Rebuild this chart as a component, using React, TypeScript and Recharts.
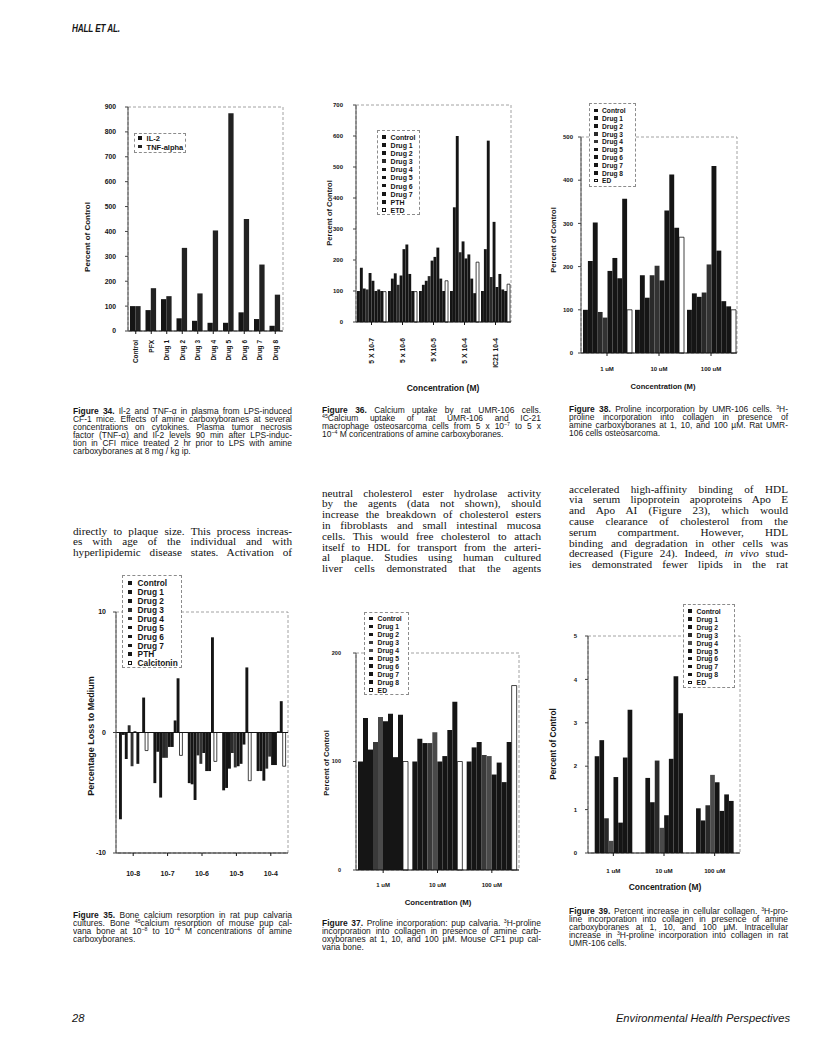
import React from 'react'
import { BarChart, Bar, XAxis, YAxis, ReferenceArea, ReferenceLine } from 'recharts'

const SANS = "'Liberation Sans', Arial, sans-serif"
const SERIF = "'Liberation Serif', 'DejaVu Serif', serif"
const INK = '#151515'

// Figure 34: cytokines
const fig34Categories = ['Control', 'PFX', 'Drug 1', 'Drug 2', 'Drug 3', 'Drug 4', 'Drug 5', 'Drug 6', 'Drug 7', 'Drug 8']
const fig34Series = ['IL-2', 'TNF-alpha']
const fig34Il2 = [100, 84, 128, 51, 41, 33, 33, 75, 48, 21]
const fig34Tnf = [100, 172, 140, 334, 151, 404, 875, 450, 267, 146]
const fig34Ticks = [0, 100, 200, 300, 400, 500, 600, 700, 800, 900]

// Figure 36: calcium uptake, UMR-106
const fig36Groups = ['5 X 10-7', '5 x 10-6', '5 X10-5', '5 X 10-4', 'IC21 10-4']
const fig36Series = ['Control', 'Drug 1', 'Drug 2', 'Drug 3', 'Drug 4', 'Drug 5', 'Drug 6', 'Drug 7', 'PTH', 'ETD']
const fig36At5e7 = [100, 175, 108, 105, 158, 133, 100, 105, 100, 98]
const fig36At5e6 = [100, 140, 157, 120, 150, 235, 250, 155, 100, 98]
const fig36At5e5 = [100, 120, 133, 148, 198, 210, 240, 140, 100, 133]
const fig36At5e4 = [100, 370, 600, 225, 260, 205, 218, 140, 93, 193]
const fig36Ic21 = [100, 235, 585, 145, 323, 113, 155, 105, 100, 122]
const fig36Ticks = [0, 100, 200, 300, 400, 500, 600, 700]

// Figure 38: proline incorporation, UMR-106
const fig38Groups = ['1 uM', '10 uM', '100 uM']
const fig38Series = ['Control', 'Drug 1', 'Drug 2', 'Drug 3', 'Drug 4', 'Drug 5', 'Drug 6', 'Drug 7', 'Drug 8', 'ED']
const fig38At1 = [100, 213, 302, 95, 82, 190, 220, 173, 357, 100]
const fig38At10 = [100, 180, 128, 180, 202, 168, 330, 413, 290, 268]
const fig38At100 = [100, 138, 130, 140, 205, 433, 237, 120, 108, 100]
const fig38Ticks = [0, 100, 200, 300, 400, 500]

// Figure 35: bone calcium resorption
const fig35Groups = ['10-8', '10-7', '10-6', '10-5', '10-4']
const fig35Series = ['Control', 'Drug 1', 'Drug 2', 'Drug 3', 'Drug 4', 'Drug 5', 'Drug 6', 'Drug 7', 'PTH', 'Calcitonin']
const fig35At1e8 = [-7.2, -0.2, -2.2, 0.6, -2.8, 0.1, -2.6, 0, 2.9, -1.5]
const fig35At1e7 = [-4.2, -1.6, -5.4, -2.1, -2.1, -1.2, -1.2, 1.0, 4.5, -1.9]
const fig35At1e6 = [-4.2, -4.3, -5.6, -1.9, -2.6, -1.7, -3.2, -3.2, 7.9, -2.4]
const fig35At1e5 = [-4.8, -4.6, -3.0, -1.7, -2.9, -2.8, -2.6, -1.0, 5.4, -4.0]
const fig35At1e4 = [-3.2, -3.2, -4.0, -3.0, -2.0, -2.7, -2.7, 0.1, 2.6, -2.8]
const fig35Ticks = [-10, 0, 10]

// Figure 37: proline incorporation, pup calvaria
const fig37Groups = ['1 uM', '10 uM', '100 uM']
const fig37Series = ['Control', 'Drug 1', 'Drug 2', 'Drug 3', 'Drug 4', 'Drug 5', 'Drug 6', 'Drug 7', 'Drug 8', 'ED']
const fig37At1 = [100, 140, 111, 118, 141, 137, 144, 104, 143, 100]
const fig37At10 = [100, 121, 117, 117, 127, 100, 105, 129, 155, 100]
const fig37At100 = [100, 113, 118, 106, 105, 88, 99, 81, 118, 170]
const fig37Ticks = [0, 100, 200]

// Figure 39: cellular collagen
const fig39Groups = ['1 uM', '10 uM', '100 uM']
const fig39Series = ['Control', 'Drug 1', 'Drug 2', 'Drug 3', 'Drug 4', 'Drug 5', 'Drug 6', 'Drug 7', 'Drug 8', 'ED']
const fig39At1 = [0, 2.23, 2.6, 0.8, 0.28, 1.75, 0.7, 2.2, 3.3, 0]
const fig39At10 = [0, 1.73, 1.17, 2.13, 0.58, 0.87, 2.17, 4.07, 3.22, 0]
const fig39At100 = [0, 1.03, 0.75, 1.1, 1.8, 1.63, 0.97, 1.35, 1.2, 0]
const fig39Ticks = [0, 1, 2, 3, 4, 5]

function rowsByGroup(groups: string[], series: string[], values: number[][]) {
  return groups.map((name, g) => {
    const row: Record<string, string | number> = { name }
    series.forEach((s, i) => { row[s] = values[g][i] })
    return row
  })
}

function rowsBySeries(groups: string[], series: string[], cols: number[][]) {
  return groups.map((name, g) => {
    const row: Record<string, string | number> = { name }
    series.forEach((s, i) => { row[s] = cols[i][g] })
    return row
  })
}

const W = '#ffffff'
const fills34 = [INK, '#222']
const fills36 = [INK, INK, INK, '#2a2a2a', INK, INK, INK, INK, INK, W]
const fills38 = [INK, INK, INK, '#2a2a2a', '#333', INK, INK, INK, INK, W]
const fills35 = [INK, INK, INK, '#2a2a2a', '#333', INK, INK, INK, INK, W]
const fills37 = [INK, INK, INK, '#3a3a3a', '#4a4a4a', INK, INK, INK, INK, W]
const fills39 = [INK, INK, INK, '#2a2a2a', '#4a4a4a', INK, INK, INK, INK, W]

function RotatedTick(props: any) {
  const { x, y, payload, size } = props
  return (
    <text x={x} y={y} transform={`rotate(-90 ${x} ${y})`} textAnchor="end" dy="0.35em"
      fontSize={size} fontWeight={700} fontFamily={SANS} fill={INK}>
      {payload.value}
    </text>
  )
}

function FigureChart(p: any) {
  const tickFont = { fontSize: p.ySize, fontWeight: 700, fill: INK, fontFamily: SANS }
  return (
    <div style={{ position: 'absolute', left: p.box[0], top: p.box[1] }}>
      <BarChart width={p.box[2]} height={p.box[3]} data={p.data} margin={p.margin} barGap={0} barSize={p.barSize}>
        <ReferenceArea y1={p.domain[0]} y2={p.domain[1]} fill="none" stroke="#8c8c8c" strokeWidth={0.8}
          strokeDasharray="3 2" ifOverflow="visible" />
        <XAxis dataKey="name" interval={0} height={p.xHeight} tickSize={3} tickMargin={p.xTickMargin}
          stroke={INK} axisLine={{ stroke: INK, strokeWidth: 1 }}
          tick={p.rotated
            ? (t: any) => <RotatedTick {...t} size={p.xSize} />
            : { fontSize: p.xSize, fontWeight: 700, fill: INK, fontFamily: SANS }} />
        <YAxis type="number" domain={p.domain} ticks={p.ticks} interval={0} width={p.yWidth}
          tickSize={3} tickMargin={p.yTickMargin} stroke="#444" tick={tickFont} />
        {p.zeroLine && <ReferenceLine y={0} stroke={INK} strokeWidth={1} />}
        {p.series.map((s: string, i: number) => (
          <Bar key={s} dataKey={s} fill={p.fills[i]} stroke={p.fills[i] === W ? INK : 'none'}
            strokeWidth={0.8} barSize={p.barSize} isAnimationActive={false} />
        ))}
      </BarChart>
    </div>
  )
}

function LegendBox(p: any) {
  return (
    <div style={{
      position: 'absolute', left: p.left, top: p.top, width: p.width, height: p.height,
      border: '1px dashed #8c8c8c', boxSizing: 'border-box', background: '#fff',
      fontFamily: SANS, fontSize: p.size, fontWeight: 700, color: INK,
    }}>
      {p.names.map((n: string, i: number) => (
        <div key={n} style={{
          position: 'absolute', left: p.markLeft, top: p.first + i * p.rowH - p.rowH / 2,
          height: p.rowH, lineHeight: `${p.rowH}px`, whiteSpace: 'nowrap',
        }}>
          <span style={{
            display: 'inline-block', width: 3.6, height: 3.6, marginRight: p.gap,
            background: p.fills[i], border: p.fills[i] === W ? `0.8px solid ${INK}` : 'none',
            boxSizing: 'border-box', verticalAlign: 'middle', position: 'relative', top: -1,
          }} />
          {n}
        </div>
      ))}
    </div>
  )
}

function AxisTitle(p: any) {
  return (
    <div style={{
      position: 'absolute', left: p.x, top: p.y,
      transform: `translate(-50%, -50%)${p.vertical ? ' rotate(-90deg)' : ''}`,
      whiteSpace: 'nowrap', fontFamily: SANS, fontWeight: 700, fontSize: p.size, color: INK, lineHeight: 1,
    }}>
      {p.text}
    </div>
  )
}

// justified text lines; squeeze < 1 narrows the face horizontally (condensed caption type)
function Lines(p: any) {
  const sq = p.squeeze || 1
  return (
    <div style={{
      position: 'absolute', left: p.left, top: p.center - p.lh / 2, width: p.width / sq,
      transform: sq !== 1 ? `scaleX(${sq})` : undefined, transformOrigin: '0 0', ...p.style,
    }}>
      {p.lines.map((ln: any, i: number) => {
        const loose = p.loose && i === p.lines.length - 1
        return (
          <div key={i} style={{
            height: p.lh, lineHeight: `${p.lh}px`, whiteSpace: 'nowrap',
            textAlign: loose ? 'left' : 'justify', textAlignLast: loose ? 'left' : 'justify',
          }}>
            {ln}
          </div>
        )
      })}
    </div>
  )
}

const Sup = ({ children }: any) => (
  <sup style={{ fontSize: '0.62em', lineHeight: 0, verticalAlign: '0.5em' }}>{children}</sup>
)
const B = ({ children }: any) => <b style={{ fontWeight: 700 }}>{children}</b>

const captionStyle = { fontFamily: SANS, fontSize: 9.4, color: '#161616' }
const bodyStyle = { fontFamily: SERIF, fontSize: 11.2, color: '#111' }
const CAP_SQ = 0.9

export default function App() {
  const data34 = rowsBySeries(fig34Categories, fig34Series, [fig34Il2, fig34Tnf])
  const data36 = rowsByGroup(fig36Groups, fig36Series, [fig36At5e7, fig36At5e6, fig36At5e5, fig36At5e4, fig36Ic21])
  const data38 = rowsByGroup(fig38Groups, fig38Series, [fig38At1, fig38At10, fig38At100])
  const data35 = rowsByGroup(fig35Groups, fig35Series, [fig35At1e8, fig35At1e7, fig35At1e6, fig35At1e5, fig35At1e4])
  const data37 = rowsByGroup(fig37Groups, fig37Series, [fig37At1, fig37At10, fig37At100])
  const data39 = rowsByGroup(fig39Groups, fig39Series, [fig39At1, fig39At10, fig39At100])

  return (
    <div style={{ position: 'absolute', left: 0, top: 0, width: 816, height: 1060, background: '#fff', overflow: 'hidden' }}>
      <div style={{
        position: 'absolute', left: 72, top: 22, fontFamily: SANS, fontSize: 10.5, fontWeight: 700,
        fontStyle: 'italic', color: INK, transform: 'scaleX(0.78)', transformOrigin: '0 0', letterSpacing: -0.2,
      }}>
        HALL ET AL.
      </div>

      {/* Figure 34 */}
      <FigureChart box={[75, 95, 215, 300]} margin={{ top: 12, right: 7, bottom: 4, left: 0 }}
        data={data34} series={fig34Series} fills={fills34} domain={[0, 900]} ticks={fig34Ticks}
        yWidth={53} yTickMargin={9} ySize={6.8} xHeight={60} xTickMargin={6} xSize={6.5} rotated barSize={5.3} />
      <LegendBox left={134} top={133} width={52} height={20} names={fig34Series} fills={fills34}
        first={5.3} rowH={8.4} size={7.5} markLeft={3} gap={5} />
      <AxisTitle x={88} y={237} text="Percent of Control" size={8} vertical />

      {/* Figure 36 */}
      <FigureChart box={[325, 95, 195, 300]} margin={{ top: 10, right: 9, bottom: 13, left: 0 }}
        data={data36} series={fig36Series} fills={fills36} domain={[0, 700]} ticks={fig36Ticks}
        yWidth={31} yTickMargin={10} ySize={6} xHeight={60} xTickMargin={13} xSize={6.8} rotated barSize={2.9} />
      <LegendBox left={377} top={130} width={43} height={85} names={fig36Series} fills={fills36}
        first={6.7} rowH={8.15} size={7} markLeft={4} gap={5} />
      <AxisTitle x={330} y={213} text="Percent of Control" size={7.5} vertical />
      <AxisTitle x={443} y={388} text="Concentration (M)" size={8.5} />

      {/* Figure 38 */}
      <FigureChart box={[550, 95, 195, 300]} margin={{ top: 42, right: 8, bottom: 12, left: 0 }}
        data={data38} series={fig38Series} fills={fills38} domain={[0, 500]} ticks={fig38Ticks}
        yWidth={31} yTickMargin={5} ySize={6} xHeight={30} xTickMargin={11} xSize={6} barSize={4.9} />
      <LegendBox left={589} top={103} width={47} height={84} names={fig38Series} fills={fills38}
        first={7} rowH={7.8} size={6.6} markLeft={4} gap={4.5} />
      <AxisTitle x={554} y={240} text="Percent of Control" size={7.5} vertical />
      <AxisTitle x={663} y={387} text="Concentration (M)" size={7.6} />

      {/* Figure 35 */}
      <FigureChart box={[20, 570, 275, 330]} margin={{ top: 42, right: 7, bottom: 17, left: 0 }}
        data={data35} series={fig35Series} fills={fills35} domain={[-10, 10]} ticks={fig35Ticks}
        yWidth={96} yTickMargin={7} ySize={7} xHeight={30} xTickMargin={15} xSize={7} barSize={2.9} zeroLine />
      <LegendBox left={122} top={575} width={60} height={93} names={fig35Series} fills={fills35}
        first={7.7} rowH={8.9} size={8.3} markLeft={5} gap={6} />
      <AxisTitle x={91} y={736} text="Percentage Loss to Medium" size={9} vertical />

      {/* Figure 37 */}
      <FigureChart box={[320, 600, 210, 320]} margin={{ top: 53, right: 11, bottom: 20, left: 0 }}
        data={data37} series={fig37Series} fills={fills37} domain={[0, 200]} ticks={fig37Ticks}
        yWidth={36} yTickMargin={12} ySize={5.5} xHeight={30} xTickMargin={10} xSize={6} barSize={5} />
      <LegendBox left={364} top={612} width={45} height={83} names={fig37Series} fills={fills37}
        first={6.3} rowH={7.96} size={6.8} markLeft={4} gap={5} />
      <AxisTitle x={327} y={763} text="Percent of Control" size={7.5} vertical />
      <AxisTitle x={438} y={903} text="Concentration (M)" size={7.8} />

      {/* Figure 39 */}
      <FigureChart box={[550, 600, 200, 300]} margin={{ top: 36, right: 10, bottom: 17, left: 0 }}
        data={data39} series={fig39Series} fills={fills39} domain={[0, 5]} ticks={fig39Ticks}
        yWidth={38} yTickMargin={8} ySize={6} xHeight={30} xTickMargin={13} xSize={6.2} barSize={4.7} />
      <LegendBox left={683} top={604} width={52} height={84} names={fig39Series} fills={fills39}
        first={7} rowH={7.9} size={6.8} markLeft={4} gap={5} />
      <AxisTitle x={554} y={744} text="Percent of Control" size={8.2} vertical />
      <AxisTitle x={665} y={887} text="Concentration (M)" size={8.5} />

      {/* captions */}
      <Lines left={73} center={411} width={219} lh={7.9} style={captionStyle} squeeze={CAP_SQ} loose lines={[
        <><B>Figure 34.</B> Il-2 and TNF-α in plasma from LPS-induced</>,
        'CF-1 mice. Effects of amine carboxyboranes at several',
        'concentrations on cytokines. Plasma tumor necrosis',
        'factor (TNF-α) and Il-2 levels 90 min after LPS-induc-',
        'tion in CFI mice treated 2 hr prior to LPS with amine',
        'carboxyboranes at 8 mg / kg ip.',
      ]} />
      <Lines left={322} center={410} width={219} lh={7.9} style={captionStyle} squeeze={CAP_SQ} loose lines={[
        <><B>Figure 36.</B> Calcium uptake by rat UMR-106 cells.</>,
        <><Sup>45</Sup>Calcium uptake of rat UMR-106 and IC-21</>,
        <>macrophage osteosarcoma cells from 5 x 10<Sup>−7</Sup> to 5 x</>,
        <>10<Sup>−4</Sup> M concentrations of amine carboxyboranes.</>,
      ]} />
      <Lines left={569} center={409} width={219} lh={7.9} style={captionStyle} squeeze={CAP_SQ} loose lines={[
        <><B>Figure 38.</B> Proline incorporation by UMR-106 cells. <Sup>3</Sup>H-</>,
        'proline incorporation into collagen in presence of',
        'amine carboxyboranes at 1, 10, and 100 µM. Rat UMR-',
        '106 cells osteosarcoma.',
      ]} />
      <Lines left={73} center={915} width={219} lh={7.9} style={captionStyle} squeeze={CAP_SQ} loose lines={[
        <><B>Figure 35.</B> Bone calcium resorption in rat pup calvaria</>,
        <>cultures. Bone <Sup>45</Sup>calcium resorption of mouse pup cal-</>,
        <>vana bone at 10<Sup>−8</Sup> to 10<Sup>−4</Sup> M concentrations of amine</>,
        'carboxyboranes.',
      ]} />
      <Lines left={322} center={923} width={219} lh={7.9} style={captionStyle} squeeze={CAP_SQ} loose lines={[
        <><B>Figure 37.</B> Proline incorporation: pup calvaria. <Sup>3</Sup>H-proline</>,
        'incorporation into collagen in presence of amine carb-',
        'oxyboranes at 1, 10, and 100 µM. Mouse CF1 pup cal-',
        'varia bone.',
      ]} />
      <Lines left={569} center={911} width={219} lh={7.9} style={captionStyle} squeeze={CAP_SQ} loose lines={[
        <><B>Figure 39.</B> Percent increase in cellular collagen. <Sup>3</Sup>H-pro-</>,
        'line incorporation into collagen in presence of amine',
        'carboxyboranes at 1, 10, and 100 µM. Intracellular',
        <>increase in <Sup>3</Sup>H-proline incorporation into collagen in rat</>,
        'UMR-106 cells.',
      ]} />

      {/* body text */}
      <Lines left={73} center={531} width={219} lh={10.8} style={bodyStyle} lines={[
        'directly to plaque size. This process increas-',
        'es with age of the individual and with',
        'hyperlipidemic disease states. Activation of',
      ]} />
      <Lines left={322} center={493} width={219} lh={10.8} style={bodyStyle} lines={[
        'neutral cholesterol ester hydrolase activity',
        'by the agents (data not shown), should',
        'increase the breakdown of cholesterol esters',
        'in fibroblasts and small intestinal mucosa',
        'cells. This would free cholesterol to attach',
        'itself to HDL for transport from the arteri-',
        'al plaque. Studies using human cultured',
        'liver cells demonstrated that the agents',
      ]} />
      <Lines left={569} center={489} width={219} lh={10.8} style={bodyStyle} lines={[
        'accelerated high-affinity binding of HDL',
        'via serum lipoprotein apoproteins Apo E',
        'and Apo AI (Figure 23), which would',
        'cause clearance of cholesterol from the',
        'serum compartment. However, HDL',
        'binding and degradation in other cells was',
        <>decreased (Figure 24). Indeed, <i>in vivo</i> stud-</>,
        'ies demonstrated fewer lipids in the rat',
      ]} />

      {/* footer */}
      <div style={{ position: 'absolute', left: 72, top: 1012, fontFamily: SANS, fontStyle: 'italic', fontSize: 11.2, color: INK }}>28</div>
      <div style={{ position: 'absolute', right: 816 - 790, top: 1012, fontFamily: SANS, fontStyle: 'italic', fontSize: 11.2, color: INK }}>
        Environmental Health Perspectives
      </div>
    </div>
  )
}
